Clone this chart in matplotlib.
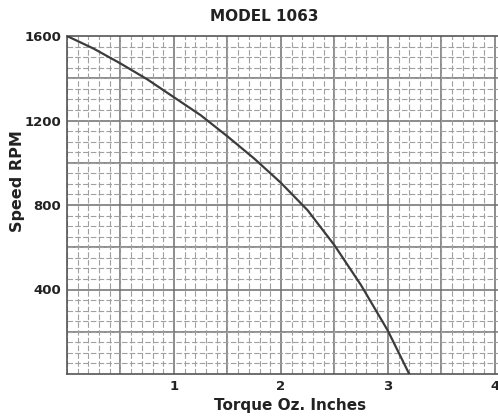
import matplotlib
matplotlib.use("Agg")
import matplotlib.pyplot as plt
from matplotlib.ticker import MultipleLocator, FixedLocator

# speed-torque curve, model 1063
torque = [0.0, 0.25, 0.5, 0.75, 1.0, 1.25, 1.5, 1.75, 2.0, 2.25, 2.5, 2.75, 3.0, 3.2]
speed = [1600, 1540, 1470, 1395, 1310, 1225, 1125, 1020, 905, 775, 610, 420, 205, 0]

x_ticks = [1, 2, 3, 4]
y_ticks = [400, 800, 1200, 1600]

plt.rcParams['font.family'] = ['DejaVu Sans']
plt.rcParams['font.weight'] = 'bold'

fig = plt.figure(figsize=(4.98, 4.16), dpi=100)
ax = fig.add_axes([67 / 498, 1 - 374 / 416, (498 - 67) / 498, (374 - 36) / 416])

ax.set_xlim(0, 4.03)
ax.set_ylim(0, 1600)

ax.xaxis.set_major_locator(FixedLocator(x_ticks))
ax.yaxis.set_major_locator(FixedLocator(y_ticks))
ax.xaxis.set_minor_locator(MultipleLocator(0.1))
ax.yaxis.set_minor_locator(MultipleLocator(50))

# graph paper: light broken fine rules, solid heavier rules
ax.grid(which='minor', color='#a0a0a0', linewidth=0.8, linestyle=(0, (5, 2)))
for xv in [i * 0.5 for i in range(1, 9)]:
    ax.axvline(xv, color='#6e6e6e', linewidth=1.1, zorder=1)
for yv in range(200, 1600, 200):
    ax.axhline(yv, color='#6e6e6e', linewidth=1.1, zorder=1)

ax.plot(torque, speed, color='#3c3c3c', linewidth=1.6, zorder=3)

ax.tick_params(which='both', length=0)
ax.tick_params(axis='both', labelsize=9.5, colors='#222222', pad=4)
ax.set_xticklabels([str(v) for v in x_ticks])
ax.set_yticklabels([str(v) for v in y_ticks])

for side in ['left', 'bottom', 'top']:
    ax.spines[side].set_color('#555555')
    ax.spines[side].set_linewidth(1.2)
ax.spines['right'].set_visible(False)

ax.text(0.457, 1.035, 'MODEL 1063', transform=ax.transAxes, ha='center', va='bottom',
        fontsize=11, fontweight='bold', color='#222222')
ax.set_xlabel('Torque Oz. Inches', fontsize=11, fontweight='bold', color='#222222')
ax.xaxis.set_label_coords(0.517, -0.07)
ax.set_ylabel('Speed RPM', fontsize=11.5, fontweight='bold', color='#222222')
ax.yaxis.set_label_coords(-0.097, 0.571)

fig.savefig('out.png', dpi=100)
